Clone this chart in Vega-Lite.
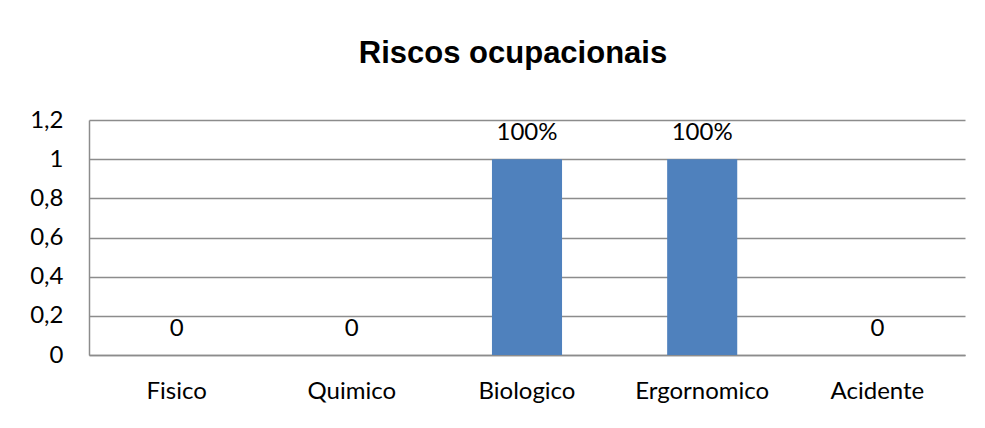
{
  "$schema": "https://vega.github.io/schema/vega-lite/v6.json",
  "width": 876,
  "height": 235,
  "autosize": "none",
  "padding": {"left": 89, "top": 120, "right": 20, "bottom": 73},
  "background": "white",
  "config": {
    "locale": {"number": {"decimal": ",", "thousands": ".", "grouping": [3], "currency": ["", " €"]}},
    "view": {"stroke": null},
    "font": "Lato"
  },
  "title": {
    "text": "Riscos ocupacionais",
    "font": "Liberation Sans",
    "fontSize": 31,
    "fontWeight": "bold",
    "color": "#000000",
    "anchor": "middle",
    "dx": -14,
    "offset": 38
  },
  "data": {
    "values": [
      {"risco": "Fisico", "valor": 0, "rotulo": "0"},
      {"risco": "Quimico", "valor": 0, "rotulo": "0"},
      {"risco": "Biologico", "valor": 1, "rotulo": "100%"},
      {"risco": "Ergornomico", "valor": 1, "rotulo": "100%"},
      {"risco": "Acidente", "valor": 0, "rotulo": "0"}
    ]
  },
  "encoding": {
    "x": {
      "field": "risco",
      "type": "nominal",
      "sort": null,
      "title": null,
      "scale": {"paddingInner": 0.6, "paddingOuter": 0.3},
      "axis": {
        "labelAngle": 0,
        "labelFont": "Lato",
        "labelFontSize": 24,
        "labelColor": "#000000",
        "labelPadding": 24,
        "ticks": false,
        "domainColor": "#8c8c8c",
        "domainWidth": 1.5
      }
    },
    "y": {
      "field": "valor",
      "type": "quantitative",
      "title": null,
      "scale": {"domain": [0, 1.2]},
      "axis": {
        "values": [0, 0.2, 0.4, 0.6, 0.8, 1, 1.2],
        "format": ".1~f",
        "labelFont": "Lato",
        "labelFontSize": 24,
        "labelColor": "#000000",
        "labelPadding": 26,
        "ticks": false,
        "domainColor": "#8c8c8c",
        "domainWidth": 1.5,
        "gridColor": "#8c8c8c",
        "gridWidth": 1.5
      }
    }
  },
  "layer": [
    {"mark": {"type": "bar", "color": "#4F81BD"}},
    {
      "mark": {"type": "text", "baseline": "alphabetic", "dy": -19, "fontSize": 24, "font": "Lato", "color": "#000000"},
      "encoding": {"text": {"field": "rotulo"}}
    }
  ]
}
